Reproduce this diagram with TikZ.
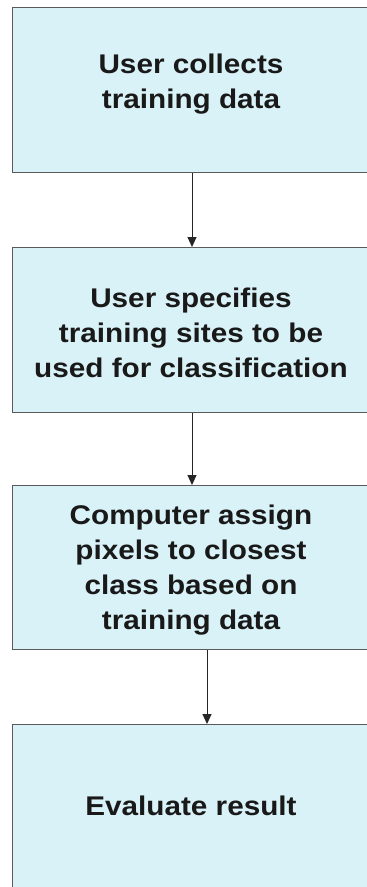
\documentclass[tikz,border=0pt]{standalone}
\usepackage{fontspec}
\setmainfont{Liberation Sans}[FakeStretch=1.1]
\usetikzlibrary{arrows.meta}
\definecolor{boxfill}{HTML}{D9F2F7}
\definecolor{boxline}{HTML}{5A5A5A}
\tikzset{
  stepbox/.style={draw=boxline, line width=1.4pt, fill=boxfill, rectangle,
    minimum width=362pt, minimum height=165pt, inner sep=0pt, anchor=north west},
  steptext/.style={align=center, font=\bfseries\fontsize{27}{35}\selectfont, text=black!90, inner sep=0pt},
  flow/.style={draw=black!85, line width=1pt, -{Triangle[length=10pt,width=9pt]}}
}
\begin{document}
\begin{tikzpicture}[x=1pt,y=-1pt]
\useasboundingbox (0,0) rectangle (367,887);
\clip (0,0) rectangle (367,887);
\fill[white] (0,0) rectangle (367,887);
\node[stepbox] (b1) at (12,7) {};
\node[stepbox] (b2) at (12,247) {};
\node[stepbox, minimum height=164pt] (b3) at (12,485) {};
\node[stepbox, minimum height=170pt] (b4) at (12,724) {};
\node[steptext] (t1) at (191,84) {User collects\\training data};
\node[steptext] (t2) at (191,333) {User specifies\\training sites to be\\used for classification};
\node[steptext] (t3) at (191,570) {Computer assign\\pixels to closest\\class based on\\training data};
\node[steptext] (t4) at (191,806) {Evaluate result};
\coordinate (c1) at (192,0);
\coordinate (c3) at (207,0);
\draw[flow] (b1.south -| c1) -- (b2.north -| c1);
\draw[flow] (b2.south -| c1) -- (b3.north -| c1);
\draw[flow] (b3.south -| c3) -- (b4.north -| c3);
\end{tikzpicture}
\end{document}
